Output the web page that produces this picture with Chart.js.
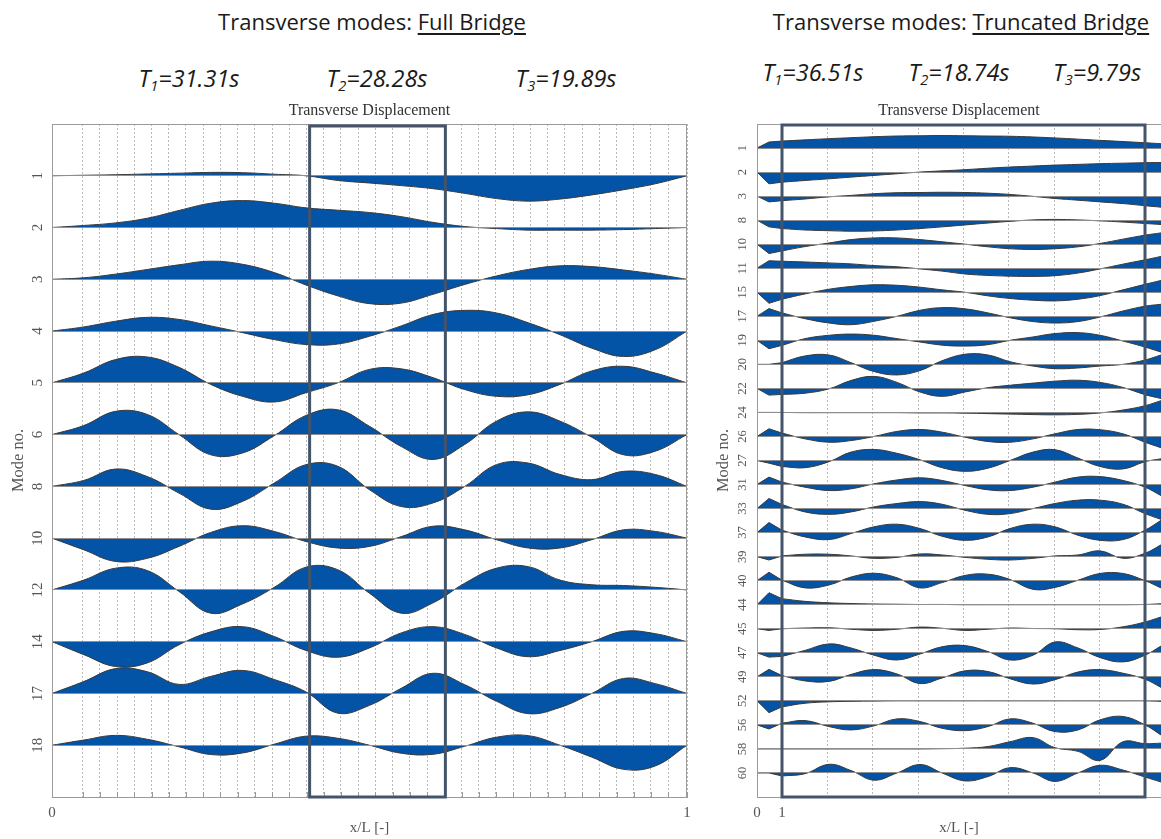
<!DOCTYPE html>
<html>
<head>
<meta charset="utf-8">
<script src="https://cdn.jsdelivr.net/npm/chart.js@4.4.1/dist/chart.umd.min.js"></script>
<style>
  body { margin: 0; width: 1161px; height: 839px; background: #fff; position: relative; overflow: hidden; font-family: "Open Sans", sans-serif; color: #1a1a1a; }
  .title { position: absolute; transform: translate(-50%, -50%); white-space: nowrap; font-size: 22px; line-height: 1; }
  .title u { text-decoration-thickness: 2px; text-underline-offset: 3px; }
  .period { position: absolute; transform: translate(-50%, -50%); white-space: nowrap; font-style: italic; font-size: 23.5px; line-height: 1; }
  .period sub { font-size: 0.62em; vertical-align: -0.28em; line-height: 0; }
  .wrap { position: absolute; top: 95px; height: 744px; }
</style>
</head>
<body>
<div class="title" style="left:372px; top:21px">Transverse modes: <u>Full Bridge</u></div>
<div class="title" style="left:961px; top:21px">Transverse modes: <u>Truncated Bridge</u></div>

<div class="period" style="left:189px; top:79px">T<sub>1</sub>=31.31s</div>
<div class="period" style="left:377px; top:79px">T<sub>2</sub>=28.28s</div>
<div class="period" style="left:566px; top:79px">T<sub>3</sub>=19.89s</div>
<div class="period" style="left:813px; top:73px">T<sub>1</sub>=36.51s</div>
<div class="period" style="left:959px; top:73px">T<sub>2</sub>=18.74s</div>
<div class="period" style="left:1097px; top:73px">T<sub>3</sub>=9.79s</div>

<div class="wrap" style="left:0; width:700px"><canvas id="leftChart" width="700" height="744"></canvas></div>
<div class="wrap" style="left:700px; width:461px"><canvas id="rightChart" width="461" height="744"></canvas></div>

<script>
"use strict";

// ---- full bridge: mode numbers, sample positions (x/L), shapes (row spacing units, up = +)
const leftModes = ["1", "2", "3", "4", "5", "6", "8", "10", "12", "14", "17", "18"];
const leftX = [0, 0.05, 0.1, 0.15, 0.2, 0.25, 0.3, 0.35, 0.4, 0.45, 0.5,
               0.55, 0.6, 0.65, 0.7, 0.75, 0.8, 0.85, 0.9, 0.95, 1];
const leftShapes = [
  [0, 0.01, 0.02, 0.035, 0.05, 0.065, 0.06, 0.03, 0, -0.09, -0.14, -0.19, -0.25, -0.34, -0.44, -0.49, -0.45, -0.37, -0.27, -0.155, 0], // 1
  [0, 0.04, 0.09, 0.18, 0.33, 0.47, 0.52, 0.47, 0.38, 0.335, 0.29, 0.21, 0.10, 0.02, -0.02, -0.05, -0.05, -0.05, -0.04, -0.02, 0],  // 2
  [0, 0.03, 0.1, 0.19, 0.28, 0.35, 0.29, 0.13, -0.11, -0.32, -0.47, -0.46, -0.29, -0.1, 0.065, 0.19, 0.26, 0.245, 0.18, 0.1, 0],   // 3
  [0, 0.08, 0.19, 0.265, 0.225, 0.1, -0.03, -0.165, -0.26, -0.25, -0.1, 0.1, 0.32, 0.4, 0.35, 0.16, -0.07, -0.33, -0.49, -0.36, 0], // 4
  [0, 0.19, 0.45, 0.5, 0.3, -0.03, -0.26, -0.37, -0.19, 0, 0.26, 0.27, 0.1, -0.13, -0.26, -0.23, -0.03, 0.23, 0.32, 0.19, 0],      // 5
  [0, 0.175, 0.45, 0.39, 0, -0.39, -0.355, -0.02, 0.37, 0.48, 0.16, -0.23, -0.48, -0.19, 0.26, 0.44, 0.26, -0.05, -0.39, -0.32, 0], // 6
  [0, 0.115, 0.335, 0.19, -0.13, -0.44, -0.29, 0.065, 0.42, 0.39, -0.065, -0.39, -0.32, 0, 0.42, 0.45, 0.23, 0.13, 0.29, 0.23, 0],  // 8
  [0, -0.225, -0.45, -0.39, -0.16, 0.11, 0.24, 0.13, -0.065, -0.19, -0.16, 0.03, 0.23, 0.16, -0.03, -0.19, -0.19, -0.03, 0.16, 0.13, 0], // 10
  [0, 0.19, 0.42, 0.375, -0.03, -0.45, -0.27, 0.05, 0.44, 0.39, -0.065, -0.45, -0.25, 0.13, 0.42, 0.45, 0.19, 0.1, 0.085, 0.05, 0], // 12
  [0, -0.25, -0.48, -0.41, -0.06, 0.19, 0.29, 0.1, -0.17, -0.3, -0.12, 0.17, 0.29, 0.14, -0.12, -0.29, -0.17, 0, 0.2, 0.155, 0],     // 14
  [0, 0.23, 0.48, 0.42, 0.175, 0.33, 0.445, 0.27, 0.03, -0.38, -0.23, 0.1, 0.39, 0.17, -0.15, -0.39, -0.27, 0, 0.29, 0.19, 0],      // 17
  [0, 0.1, 0.19, 0.115, -0.03, -0.18, -0.15, 0.02, 0.175, 0.135, 0, -0.155, -0.175, -0.02, 0.155, 0.185, 0, -0.23, -0.465, -0.4, 0] // 18
];
const leftBox = [0.4057, 0.6195];

// ---- truncated bridge
const rightModes = ["1", "2", "3", "8", "10", "11", "15", "17", "19", "20", "22", "24", "26", "27",
                    "31", "33", "37", "39", "40", "44", "45", "47", "49", "52", "56", "58", "60"];
const rightX = [0, 0.48, 1, 1.92, 2.88, 3.76, 4.68, 5.6, 6.52, 7.4, 8.32,
                9.24, 10.12, 11.04, 11.92, 12.84, 13.72, 14.64, 15.52, 16.16];
const rightShapes = [
  [0, 0.25, 0.29, 0.34, 0.39, 0.43, 0.47, 0.5, 0.51, 0.52, 0.51, 0.5, 0.49, 0.46, 0.42, 0.37, 0.32, 0.27, 0.22, 0.18],        // 1
  [0, -0.49, -0.42, -0.35, -0.28, -0.21, -0.14, -0.07, 0, 0.05, 0.1, 0.16, 0.21, 0.25, 0.29, 0.32, 0.35, 0.37, 0.39, 0.4],      // 2
  [0, -0.24, -0.19, -0.12, -0.03, 0.03, 0.1, 0.14, 0.15, 0.16, 0.15, 0.12, 0.07, -0.01, -0.1, -0.17, -0.24, -0.31, -0.4, -0.46], // 3
  [0, -0.28, -0.35, -0.41, -0.44, -0.46, -0.45, -0.41, -0.35, -0.28, -0.2, -0.12, -0.05, 0.01, 0.03, 0.01, -0.03, -0.08, -0.14, -0.18], // 8
  [0, -0.39, -0.28, -0.1, 0.05, 0.19, 0.26, 0.26, 0.19, 0.1, 0, -0.11, -0.19, -0.22, -0.19, -0.11, 0.03, 0.21, 0.375, 0.47],   // 10
  [0, 0.31, 0.29, 0.26, 0.22, 0.18, 0.11, 0.06, -0.03, -0.12, -0.24, -0.3, -0.33, -0.34, -0.31, -0.2, -0.03, 0.17, 0.35, 0.49], // 11
  [0, -0.46, -0.29, -0.07, 0.125, 0.24, 0.31, 0.29, 0.21, 0.1, 0, -0.15, -0.26, -0.33, -0.36, -0.29, -0.14, 0.1, 0.33, 0.49],  // 15
  [0, 0.32, 0.14, -0.1, -0.28, -0.35, -0.21, 0, 0.25, 0.36, 0.31, 0.14, -0.06, -0.22, -0.28, -0.22, -0.03, 0.22, 0.42, 0.5],    // 17
  [0, -0.35, -0.21, 0.07, 0.21, 0.26, 0.21, 0.07, -0.07, -0.2, -0.24, -0.18, 0, 0.14, 0.28, 0.32, 0.21, -0.03, -0.28, -0.49],   // 19
  [0, 0, 0.07, 0.35, 0.39, 0.07, -0.3, -0.44, -0.26, 0.15, 0.42, 0.39, 0.11, -0.07, -0.18, -0.15, -0.07, 0, 0.18, 0.39],        // 20
  [0, -0.28, -0.25, -0.2, -0.02, 0.33, 0.5, 0.25, -0.15, -0.33, -0.15, 0.03, 0.13, 0.22, 0.3, 0.34, 0.25, 0.04, -0.26, -0.42],  // 22
  [0, 0, 0, -0.01, -0.01, -0.01, -0.01, -0.01, -0.02, -0.02, -0.03, -0.05, -0.07, -0.09, -0.1, -0.08, -0.02, 0.1, 0.28, 0.49],   // 24
  [0, 0.32, 0.14, -0.1, -0.24, -0.17, 0, 0.21, 0.29, 0.18, -0.03, -0.21, -0.24, -0.1, 0.11, 0.29, 0.28, 0.11, -0.24, -0.47],    // 26
  [0, -0.11, -0.25, -0.3, -0.05, 0.35, 0.46, 0.3, 0.03, -0.3, -0.45, -0.32, 0, 0.35, 0.45, 0.1, -0.25, -0.35, -0.05, 0.07],     // 27
  [0, 0.31, 0.1, -0.11, -0.25, -0.18, 0.03, 0.19, 0.28, 0.17, -0.04, -0.22, -0.25, -0.11, 0.1, 0.31, 0.33, 0.17, -0.11, -0.46], // 31
  [0, 0.42, 0.17, -0.14, -0.24, -0.14, 0.07, 0.21, 0.29, 0.18, -0.07, -0.24, -0.21, 0, 0.21, 0.35, 0.35, 0.18, -0.21, -0.45],   // 33
  [0, 0.42, 0.1, -0.18, -0.29, -0.04, 0.24, 0.35, 0.17, -0.15, -0.32, -0.18, 0.17, 0.35, 0.24, -0.11, -0.32, -0.29, 0.1, 0.51], // 37
  [0, -0.14, 0.03, 0.1, 0.1, 0.03, -0.07, -0.03, 0.11, 0.07, -0.03, -0.11, -0.14, -0.07, 0.03, 0.07, 0.24, -0.07, 0.14, 0.49],  // 39
  [0, 0.35, 0.02, -0.3, -0.18, 0.15, 0.31, 0.12, -0.3, -0.08, 0.22, 0.27, 0.05, -0.36, -0.28, 0.02, 0.3, 0.3, 0, -0.3],         // 40
  [0, 0.5, 0.25, 0.14, 0.08, 0.05, 0.03, 0.02, 0.01, 0.01, 0, 0, 0, 0, 0, 0, 0, 0, 0.01, 0.04],                                   // 44
  [0, -0.07, 0, 0.03, 0.04, -0.02, -0.07, -0.02, 0.07, 0.02, -0.07, -0.02, 0.03, 0.01, 0, -0.04, -0.03, 0.08, 0.28, 0.49],       // 45
  [0, -0.18, -0.15, 0.1, 0.37, 0.2, -0.1, -0.3, -0.05, 0.25, 0.3, 0.05, -0.3, -0.1, 0.45, 0.2, -0.2, -0.38, -0.1, 0.28],        // 47
  [0, 0.31, 0.05, -0.17, -0.19, 0.1, 0.3, 0.12, -0.28, -0.05, 0.25, 0.22, -0.08, -0.3, -0.12, 0.2, 0.3, 0.15, -0.1, -0.44],     // 49
  [0, -0.49, -0.25, -0.1, -0.04, -0.02, -0.01, 0, 0, 0, 0, 0, 0, 0, 0, 0, 0, 0, 0, -0.02],                                          // 52
  [0, -0.17, 0.07, 0.18, -0.07, -0.21, -0.04, 0.25, 0.14, -0.14, -0.24, -0.07, 0.25, 0.07, -0.28, -0.21, 0.21, 0.35, 0, -0.42],  // 56
  [0, 0, 0, 0, 0, 0, 0, 0, 0, 0.01, 0.03, 0.1, 0.3, 0.47, 0.05, -0.1, -0.48, 0.3, 0.22, 0.24],                                       // 58
  [0, 0, -0.125, -0.03, 0.36, 0.1, -0.3, 0, 0.35, 0, -0.33, -0.15, 0.22, 0, -0.35, 0, 0.32, 0.12, -0.17, -0.375]                  // 60
];
const rightBox = [1, 15.52];

const serif = '"Liberation Serif", "DejaVu Serif", serif';
const fillBlue = "#0353a6";
const edge = "#3a3a3a";

// plot frame + the highlighted rectangle
const framePlugin = {
  id: "frame",
  afterDraw(chart, args, opts) {
    const { ctx, chartArea: a, scales: { x } } = chart;
    ctx.save();
    ctx.strokeStyle = "#9a9a9a";
    ctx.lineWidth = 1;
    ctx.beginPath();
    ctx.moveTo(a.left + 0.5, a.bottom);
    ctx.lineTo(a.left + 0.5, a.top + 0.5);
    ctx.lineTo(a.right, a.top + 0.5);
    if (opts.right) {
      ctx.moveTo(a.right - 0.5, a.top);
      ctx.lineTo(a.right - 0.5, a.bottom);
    }
    // small inner ticks along the bottom
    if (opts.innerTicks) {
      x.ticks.forEach(t => {
        const px = Math.round(x.getPixelForValue(t.value)) + 0.5;
        ctx.moveTo(px, a.bottom);
        ctx.lineTo(px, a.bottom - 5);
      });
    }
    ctx.stroke();
    const x0 = x.getPixelForValue(opts.box[0]);
    const x1 = x.getPixelForValue(opts.box[1]);
    ctx.strokeStyle = "#44546a";
    ctx.lineWidth = 3;
    ctx.strokeRect(x0, a.top + opts.boxTop, x1 - x0, a.bottom - a.top - opts.boxTop);
    ctx.restore();
  }
};

function leftDatasets() {
  return leftShapes.map((row, i) => ({
    data: leftX.map((x, j) => ({ x: x, y: i + 1 - row[j] })),
    fill: { value: i + 1 },
    backgroundColor: fillBlue,
    borderColor: edge,
    borderWidth: 1,
    pointRadius: 0,
    tension: 0.4
  }));
}

function rightDatasets() {
  const sets = [];
  rightShapes.forEach((row, i) => {
    const pts = rightX.map((x, j) => ({ x: x, y: i + 1 - row[j] }));
    // straight end segment, then the smooth shape
    sets.push({ data: pts.slice(0, 3), fill: { value: i + 1 }, backgroundColor: fillBlue,
                borderColor: edge, borderWidth: 1, pointRadius: 0, tension: 0 });
    sets.push({ data: pts.slice(2), fill: { value: i + 1 }, backgroundColor: fillBlue,
                borderColor: edge, borderWidth: 1, pointRadius: 0, tension: 0.4 });
  });
  return sets;
}

function makeOptions(cfg) {
  return {
    responsive: false,
    animation: false,
    layout: { padding: { top: 0, left: 0, right: cfg.padRight, bottom: 0 } },
    plugins: {
      legend: { display: false },
      tooltip: { enabled: false },
      title: {
        display: true, fullSize: false, text: "Transverse Displacement", color: "#333",
        font: { family: serif, size: 16, weight: "normal" }, padding: { top: 6.5, bottom: 3.3 }
      },
      frame: { right: cfg.frameRight, innerTicks: cfg.innerTicks, box: cfg.box, boxTop: cfg.boxTop }
    },
    scales: {
      x: {
        type: "linear", min: 0, max: cfg.xMax,
        afterBuildTicks: s => { s.ticks = cfg.xTicks.map(v => ({ value: v })); },
        afterFit: s => { s.height = 42; },
        ticks: {
          autoSkip: false, maxRotation: 0, padding: 7, color: "#555",
          font: { family: serif, size: 15 },
          callback: v => (v === 0 || v === 1) ? String(v) : ""
        },
        grid: { color: "#b9b9b9", drawTicks: false },
        border: { color: "#9a9a9a", dash: [2, 2] },
        title: { display: true, text: "x/L [-]", color: "#555", font: { family: serif, size: 15 },
                 padding: { top: 0, bottom: 2 } }
      },
      y: {
        type: "linear", reverse: true, min: 0, max: cfg.modes.length + 1,
        afterBuildTicks: s => { s.ticks = cfg.modes.map((m, i) => ({ value: i + 1 })); },
        afterFit: s => { s.width = cfg.yWidth; },
        ticks: {
          autoSkip: false, minRotation: 90, maxRotation: 90, crossAlign: "center",
          padding: cfg.yPad, color: "#555", font: { family: serif, size: cfg.yFont },
          callback: v => cfg.modes[v - 1]
        },
        grid: { color: "#8f8f8f", drawTicks: false, z: 1 },
        border: { display: false },
        title: { display: true, text: "Mode no.", color: "#555", font: { family: serif, size: 16.5 },
                 padding: { top: cfg.yTitlePad, bottom: 0 } }
      }
    }
  };
}

// grid lines (element nodes) of each plot
const leftTicks = [0];
for (let k = 0; k < 35; k++) leftTicks.push(0.0483 + k * 0.02712);
leftTicks.push(1);
const rightTicks = [0];
for (let k = 0; k < 9; k++) rightTicks.push(1 + k * 1.815);

new Chart(document.getElementById("leftChart"), {
  type: "line",
  data: { datasets: leftDatasets() },
  options: makeOptions({
    padRight: 13, xMax: 1, xTicks: leftTicks, modes: leftModes, yWidth: 52, yPad: 6,
    yFont: 15, yTitlePad: 9, frameRight: true, innerTicks: true, box: leftBox, boxTop: 2
  }),
  plugins: [framePlugin]
});

new Chart(document.getElementById("rightChart"), {
  type: "line",
  data: { datasets: rightDatasets() },
  options: makeOptions({
    padRight: 0, xMax: 16.16, xTicks: rightTicks, modes: rightModes, yWidth: 57, yPad: 8,
    yFont: 12.5, yTitlePad: 14, frameRight: false, innerTicks: false, box: rightBox, boxTop: 1
  }),
  plugins: [framePlugin]
});
</script>
</body>
</html>
